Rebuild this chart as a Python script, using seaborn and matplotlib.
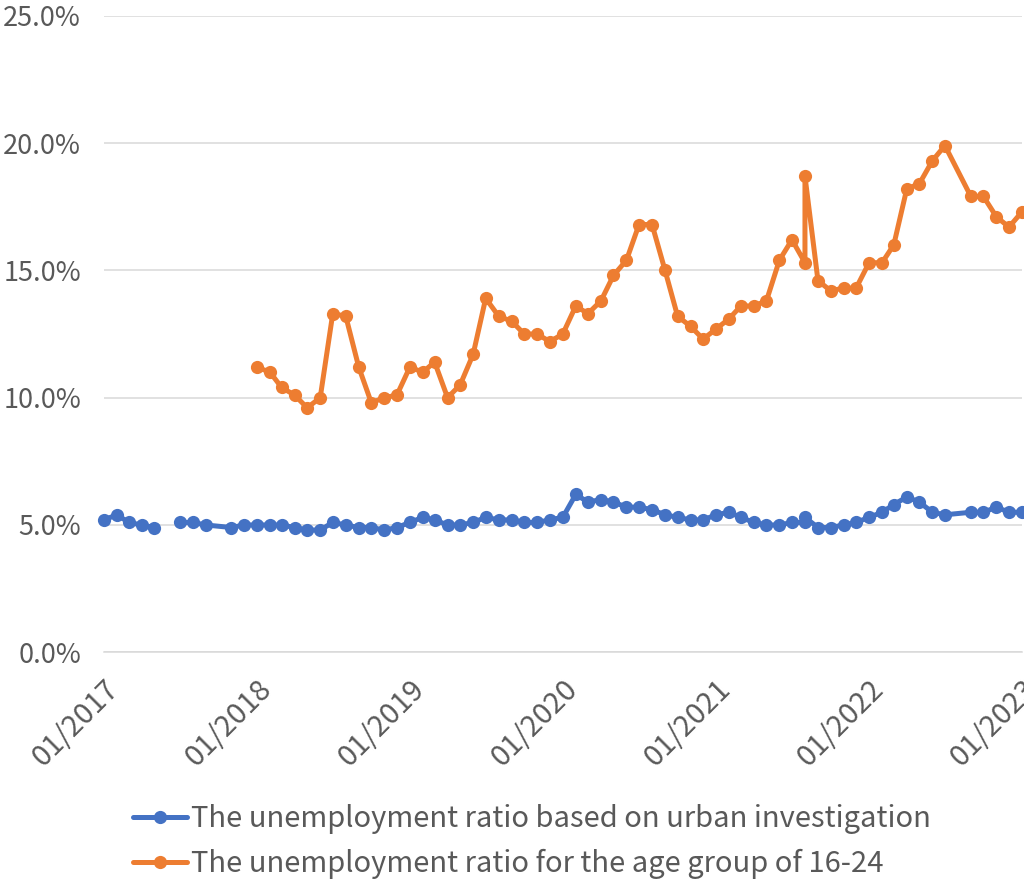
import numpy as np
import pandas as pd
import matplotlib
matplotlib.use("Agg")
import matplotlib.pyplot as plt
import matplotlib.dates as mdates
from matplotlib.lines import Line2D
from matplotlib.ticker import FuncFormatter
import seaborn as sns

# ---- data -------------------------------------------------------------
# Urban surveyed unemployment rate (%), monthly; NaN marks a break in the line
urban_months = [
    "2017-01", "2017-02", "2017-03", "2017-04", "2017-05", "2017-06",
    "2017-07", "2017-08", "2017-09", "2017-11", "2017-12",
    "2018-01", "2018-02", "2018-03", "2018-04", "2018-05", "2018-06",
    "2018-07", "2018-08", "2018-09", "2018-10", "2018-11", "2018-12",
    "2019-01", "2019-02", "2019-03", "2019-04", "2019-05", "2019-06",
    "2019-07", "2019-08", "2019-09", "2019-10", "2019-11", "2019-12",
    "2020-01", "2020-02", "2020-03", "2020-04", "2020-05", "2020-06",
    "2020-07", "2020-08", "2020-09", "2020-10", "2020-11", "2020-12",
    "2021-01", "2021-02", "2021-03", "2021-04", "2021-05", "2021-06",
    "2021-07", "2021-08", "2021-08", "2021-09", "2021-10", "2021-11", "2021-12",
    "2022-01", "2022-02", "2022-03", "2022-04", "2022-05", "2022-06",
    "2022-07", "2022-09", "2022-10", "2022-11", "2022-12",
    "2023-01",
]
urban_rate = [
    5.2, 5.4, 5.1, 5.0, 4.9, np.nan,
    5.1, 5.1, 5.0, 4.9, 5.0,
    5.0, 5.0, 5.0, 4.9, 4.8, 4.8,
    5.1, 5.0, 4.9, 4.9, 4.8, 4.9,
    5.1, 5.3, 5.2, 5.0, 5.0, 5.1,
    5.3, 5.2, 5.2, 5.1, 5.1, 5.2,
    5.3, 6.2, 5.9, 6.0, 5.9, 5.7,
    5.7, 5.6, 5.4, 5.3, 5.2, 5.2,
    5.4, 5.5, 5.3, 5.1, 5.0, 5.0,
    5.1, 5.1, 5.3, 4.9, 4.9, 5.0, 5.1,
    5.3, 5.5, 5.8, 6.1, 5.9, 5.5,
    5.4, 5.5, 5.5, 5.7, 5.5,
    5.5,
]

# Unemployment rate for ages 16-24 (%), monthly
youth_months = [
    "2018-01", "2018-02", "2018-03", "2018-04", "2018-05", "2018-06",
    "2018-07", "2018-08", "2018-09", "2018-10", "2018-11", "2018-12",
    "2019-01", "2019-02", "2019-03", "2019-04", "2019-05", "2019-06",
    "2019-07", "2019-08", "2019-09", "2019-10", "2019-11", "2019-12",
    "2020-01", "2020-02", "2020-03", "2020-04", "2020-05", "2020-06",
    "2020-07", "2020-08", "2020-09", "2020-10", "2020-11", "2020-12",
    "2021-01", "2021-02", "2021-03", "2021-04", "2021-05", "2021-06",
    "2021-07", "2021-08", "2021-08", "2021-09", "2021-10", "2021-11", "2021-12",
    "2022-01", "2022-02", "2022-03", "2022-04", "2022-05", "2022-06",
    "2022-07", "2022-09", "2022-10", "2022-11", "2022-12",
    "2023-01",
]
youth_rate = [
    11.2, 11.0, 10.4, 10.1, 9.6, 10.0,
    13.3, 13.2, 11.2, 9.8, 10.0, 10.1,
    11.2, 11.0, 11.4, 10.0, 10.5, 11.7,
    13.9, 13.2, 13.0, 12.5, 12.5, 12.2,
    12.5, 13.6, 13.3, 13.8, 14.8, 15.4,
    16.8, 16.8, 15.0, 13.2, 12.8, 12.3,
    12.7, 13.1, 13.6, 13.6, 13.8, 15.4,
    16.2, 15.3, 18.7, 14.6, 14.2, 14.3, 14.3,
    15.3, 15.3, 16.0, 18.2, 18.4, 19.3,
    19.9, 17.9, 17.9, 17.1, 16.7,
    17.3,
]

series_names = [
    "The unemployment ratio based on urban investigation",
    "The unemployment ratio for the age group of 16-24",
]
series_colors = ["#4472C4", "#ED7D31"]
y_ticks = [0, 5, 10, 15, 20, 25]


def to_frame(months, values, name):
    df = pd.DataFrame({"date": pd.to_datetime(months), "rate": values})
    df["series"] = name
    # each run of valid values becomes its own line segment
    df["segment"] = name + "_" + df["rate"].isna().cumsum().astype(str)
    return df.dropna(subset=["rate"])


data = pd.concat(
    [to_frame(urban_months, urban_rate, series_names[0]),
     to_frame(youth_months, youth_rate, series_names[1])],
    ignore_index=True,
)

# ---- style ------------------------------------------------------------
sns.set_theme(style="white")
plt.rcParams["font.family"] = ["Noto Sans CJK SC", "DejaVu Sans"]
text_color = "#595959"
grid_color = "#D9D9D9"
fs = 21
fs_y = 19.5

fig = plt.figure(figsize=(10.24, 8.82), dpi=100)
W, H = 1024, 882
ax = fig.add_axes([104 / W, 1 - 652.3 / H, (1022 - 104) / W, (652.3 - 15.7) / H])

sns.lineplot(
    data=data, x="date", y="rate", hue="series", units="segment",
    estimator=None, sort=False, palette=series_colors,
    hue_order=series_names, marker="o", markersize=9.5,
    markeredgewidth=0, linewidth=3.6, legend=False, ax=ax,
    clip_on=False, zorder=3,
)

ax.set_xlim(pd.Timestamp("2017-01-01"), pd.Timestamp("2023-01-01"))
ax.set_ylim(0, 25)
ax.set_yticks(y_ticks)
ax.yaxis.set_major_formatter(FuncFormatter(lambda v, _: f"{v:.1f}%"))
ax.xaxis.set_major_locator(mdates.YearLocator(month=1, day=1))
ax.xaxis.set_major_formatter(mdates.DateFormatter("%m/%Y"))

ax.grid(axis="y", color=grid_color, linewidth=1.1)
ax.grid(axis="x", visible=False)
ax.set_axisbelow(True)
for side in ["left", "right", "top"]:
    ax.spines[side].set_visible(False)
ax.spines["bottom"].set_color(grid_color)
ax.spines["bottom"].set_linewidth(1.1)
ax.spines["bottom"].set_zorder(1)

ax.tick_params(axis="y", length=0, pad=16.5, labelsize=fs_y, labelcolor=text_color)
ax.tick_params(axis="x", length=5, width=1.1, color=grid_color, pad=11,
               labelsize=fs, labelcolor=text_color)
for lbl in ax.get_xticklabels():
    lbl.set_rotation(45)
    lbl.set_ha("right")
    lbl.set_va("top")
    lbl.set_rotation_mode("anchor")
ax.set_xlabel("")
ax.set_ylabel("")

handles = [
    Line2D([], [], color=c, linewidth=3.6, marker="o", markersize=9.5,
           markeredgewidth=0)
    for c in series_colors
]
fig.legend(
    handles, series_names, loc="upper left",
    bbox_to_anchor=(133 / W, 1 - 804 / H), frameon=False,
    fontsize=fs, labelcolor=text_color, handlelength=1.85,
    handletextpad=0.15, labelspacing=0.5, borderpad=0, borderaxespad=0,
)

fig.savefig("out.png", dpi=100)
